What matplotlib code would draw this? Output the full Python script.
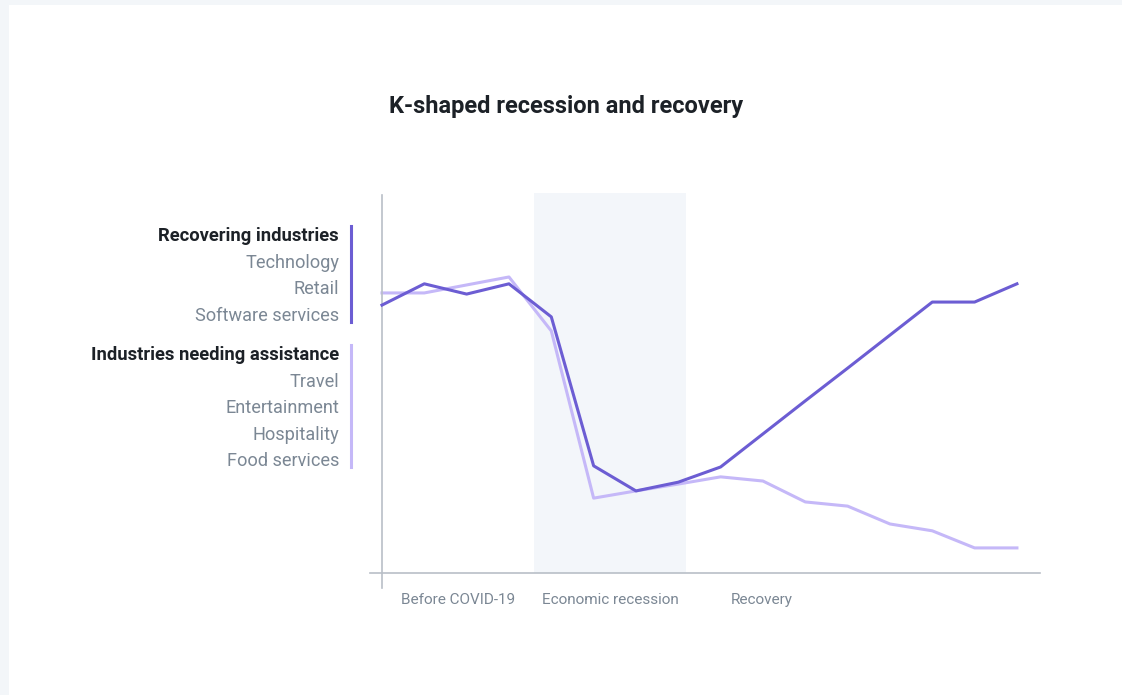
import matplotlib
matplotlib.use("Agg")
import matplotlib.pyplot as plt
from matplotlib.patches import Rectangle

plt.rcParams["font.family"] = ["Roboto", "DejaVu Sans"]

# data: index values at 16 time steps
steps = list(range(16))
recovering = [70.5, 76.1, 73.4, 76.1, 67.4, 28.2, 21.6, 23.9, 27.9, 36.6, 45.3, 53.9, 62.6, 71.3, 71.3, 76.1]
assistance = [73.7, 73.7, 75.8, 77.9, 63.7, 19.7, 21.6, 23.4, 25.3, 24.2, 18.7, 17.6, 12.9, 11.1, 6.6, 6.6]
phases = ["Before COVID-19", "Economic recession", "Recovery"]
phase_edges = [0, 3.59, 7.18, 10.77]
group_titles = ["Recovering industries", "Industries needing assistance"]
group_items = [["Technology", "Retail", "Software services"],
               ["Travel", "Entertainment", "Hospitality", "Food services"]]

DARK = "#6c5dd3"
LIGHT = "#c5b8f8"
SHADE = "#f3f6fa"
AXIS = "#b9bfc7"
GREY = "#7b8794"
INK = "#1c2127"

W, H = 1122, 695
fig = plt.figure(figsize=(W / 100, H / 100), dpi=100, facecolor="#f3f6f9")
fig.patches.append(Rectangle((9 / W, 0), 1, 1 - 5 / H, transform=fig.transFigure,
                             facecolor="white", edgecolor="none", zorder=-5))


def fx(px):
    return px / W


def fy(py):
    return 1 - py / H


# plot area in pixels
left, right, top, bottom = 370, 1040, 193, 588
ax = fig.add_axes([fx(left), fy(bottom), (right - left) / W, (bottom - top) / H])
ax.set_facecolor("none")
ax.set_xlim(-0.283, 15.545)
ax.set_ylim(-3.95, 100)

ax.fill_between([phase_edges[1], phase_edges[2]], 0, 100, color=SHADE, lw=0, zorder=0)
ax.plot(steps, assistance, color=LIGHT, lw=2.2, zorder=2)
ax.plot(steps, recovering, color=DARK, lw=2.2, zorder=3)

for s in ["top", "right"]:
    ax.spines[s].set_visible(False)
ax.spines["left"].set_position(("data", 0))
ax.spines["left"].set_bounds(-3.95, 99.5)
ax.spines["bottom"].set_position(("data", 0))
ax.spines["left"].set_color(AXIS)
ax.spines["bottom"].set_color(AXIS)
ax.spines["left"].set_linewidth(1.2)
ax.spines["bottom"].set_linewidth(1.2)
ax.set_xticks([])
ax.set_yticks([])

# phase labels below the axis
for i, name in enumerate(phases):
    mid = (phase_edges[i] + phase_edges[i + 1]) / 2
    ax.text(mid, -7.2, name, ha="center", va="center", fontsize=11, color=GREY,
            clip_on=False)

fig.text(fx(566), fy(106), "K-shaped recession and recovery", ha="center", va="center",
         fontsize=17, fontweight="bold", color=INK)

# legend-like labels on the left
colors = [DARK, LIGHT]
starts = [236, 355]
step = 26.6
for g, (title, items) in enumerate(zip(group_titles, group_items)):
    y0 = starts[g]
    fig.text(fx(339), fy(y0), title, ha="right", va="center", fontsize=13.2,
             fontweight="bold", color=INK)
    for k, it in enumerate(items):
        fig.text(fx(339), fy(y0 + step * (k + 1)), it, ha="right", va="center",
                 fontsize=13.1, color=GREY)
    y_end = y0 + step * len(items) + 6
    fig.add_artist(plt.Line2D([fx(351), fx(351)], [fy(y0 - 10), fy(y_end)],
                              color=colors[g], lw=2.2, transform=fig.transFigure))

fig.savefig("out.png", dpi=100, facecolor=fig.get_facecolor())
